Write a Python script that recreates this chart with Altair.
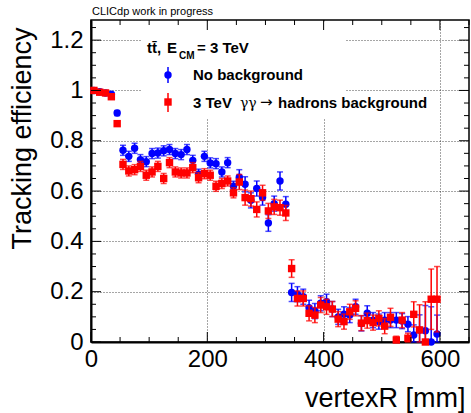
import altair as alt
import pandas as pd

# ---------------- data ----------------
vertex_r = [5, 15, 25, 35, 45, 55, 65, 75, 85, 95,
            105, 115, 125, 135, 145, 155, 165, 175, 185, 195,
            205, 215, 225, 235, 245, 255, 265, 275, 285, 295,
            305, 315, 325, 335, 345, 355, 365, 375, 385, 395,
            405, 415, 425, 435, 445, 455, 465, 475, 485, 495,
            505, 515, 525, 535, 545, 555, 565, 575, 585, 595]

eff_nobkg = [1.0, 0.995, 0.99, 0.985, 0.91, 0.762, 0.738, 0.77, 0.725, 0.717,
             0.749, 0.751, 0.76, 0.765, 0.749, 0.745, 0.765, 0.722, 0.667, 0.738,
             0.712, 0.709, 0.676, 0.713, 0.619, 0.655, 0.627, 0.563, 0.61, 0.574,
             0.473, 0.55, 0.64, 0.548, 0.197, 0.19, 0.18, 0.136, 0.123, 0.154,
             0.16, 0.131, 0.10, 0.11, 0.107, 0.14, 0.074, 0.114, 0.087, 0.081,
             0.087, 0.087, 0.087, 0.083, 0.071, 0.028, 0.048, 0.045, 0.0, 0.032]
err_nobkg = [0.005, 0.005, 0.005, 0.005, 0.01, 0.02, 0.02, 0.02, 0.02, 0.02,
             0.02, 0.02, 0.02, 0.02, 0.02, 0.02, 0.02, 0.02, 0.02, 0.02,
             0.02, 0.02, 0.02, 0.02, 0.02, 0.03, 0.03, 0.03, 0.03, 0.03,
             0.033, 0.03, 0.036, 0.03, 0.036, 0.03, 0.03, 0.03, 0.03, 0.03,
             0.03, 0.03, 0.03, 0.03, 0.03, 0.03, 0.03, 0.03, 0.03, 0.03,
             0.03, 0.03, 0.03, 0.03, 0.03, 0.04, 0.06, 0.1, 0.14, 0.075]

eff_bkg = [1.0, 0.993, 0.99, 0.975, 0.868, 0.706, 0.68, 0.685, 0.698, 0.663,
           0.676, 0.698, 0.65, 0.713, 0.676, 0.672, 0.672, 0.693, 0.653, 0.669,
           0.663, 0.619, 0.63, 0.64, 0.593, 0.636, 0.574, 0.57, 0.527, 0.593,
           0.521, 0.537, 0.534, 0.513, 0.292, 0.173, 0.173, 0.114, 0.107, 0.147,
           0.14, 0.131, 0.091, 0.081, 0.12, 0.134, 0.075, 0.085, 0.077, 0.094,
           0.063, 0.098, 0.008, 0.087, 0.015, 0.11, 0.048, 0.0, 0.17, 0.17]
err_bkg = [0.005, 0.005, 0.005, 0.005, 0.01, 0.02, 0.02, 0.02, 0.02, 0.02,
           0.02, 0.02, 0.02, 0.02, 0.02, 0.02, 0.02, 0.02, 0.02, 0.02,
           0.02, 0.02, 0.02, 0.02, 0.02, 0.03, 0.03, 0.03, 0.03, 0.03,
           0.03, 0.03, 0.03, 0.03, 0.035, 0.03, 0.03, 0.03, 0.03, 0.03,
           0.03, 0.03, 0.03, 0.03, 0.03, 0.03, 0.03, 0.03, 0.03, 0.03,
           0.03, 0.036, 0.015, 0.03, 0.02, 0.05, 0.1, 0.16, 0.12, 0.13]

x_major = [0, 200, 400, 600]
x_minor = [50, 100, 150, 250, 300, 350, 450, 500, 550, 650]
y_major = [0, 0.2, 0.4, 0.6, 0.8, 1, 1.2]
y_minor = [0.05, 0.1, 0.15, 0.25, 0.3, 0.35, 0.45, 0.5, 0.55, 0.65, 0.7,
           0.75, 0.85, 0.9, 0.95, 1.05, 1.1, 1.15, 1.25]

BLUE = "#0000ff"
RED = "#ff0000"
FONT = "Liberation Sans"
W, H = 378, 322

def make_df(eff, err):
    return pd.DataFrame({
        "r": vertex_r,
        "eff": eff,
        "lo": [max(0.0, e - d) for e, d in zip(eff, err)],
        "hi": [e + d for e, d in zip(eff, err)],
    })

df_nobkg = make_df(eff_nobkg, err_nobkg)
df_bkg = make_df(eff_bkg, err_bkg)

xs = alt.Scale(domain=[0, 650], nice=False, zero=False)
ys = alt.Scale(domain=[0, 1.28], nice=False, zero=False)

x_axis = alt.Axis(values=x_major, ticks=False, grid=True, gridDash=[1, 2],
                  gridColor="#000000", gridOpacity=0.7, gridWidth=1,
                  domain=True, domainColor="black", domainWidth=2,
                  labelFont=FONT, labelFontSize=24, labelColor="black",
                  labelPadding=5, labelFlush=False,
                  title="vertexR [mm]", titleFont=FONT, titleFontSize=27,
                  titleFontWeight="normal", titleColor="black",
                  titleX=374, titleY=56, titleAlign="right", titleBaseline="middle")
y_axis = alt.Axis(values=y_major, format="~g", ticks=False, grid=True, gridDash=[1, 2],
                  gridColor="#000000", gridOpacity=0.7, gridWidth=1,
                  domain=True, domainColor="black", domainWidth=2,
                  labelFont=FONT, labelFontSize=24, labelColor="black",
                  labelPadding=8, labelFlush=False,
                  title="Tracking efficiency", titleFont=FONT, titleFontSize=27,
                  titleFontWeight="normal", titleColor="black",
                  titleX=-69, titleY=7, titleAngle=270, titleAlign="right",
                  titleBaseline="middle")

def X(field):
    return alt.X(field, type="quantitative", scale=xs, axis=x_axis)

def Y(field):
    return alt.Y(field, type="quantitative", scale=ys, axis=y_axis)

one = pd.DataFrame({"a": [0]})

# white legend box (hides grid behind legend)
legend_box = alt.Chart(one).mark_rect(fill="white").encode(
    x=alt.value(50), x2=alt.value(254), y=alt.value(1.5), y2=alt.value(98)
)

def series_layers(df, color, shape):
    bars = alt.Chart(df).mark_rule(color=color, strokeWidth=1.5).encode(
        x=X("r"), y=Y("lo"), y2="hi:Q",
    )
    cap_lo = alt.Chart(df).mark_tick(color=color, orient="horizontal", size=6,
                                     thickness=1.5).encode(x=X("r"), y=Y("lo"))
    cap_hi = alt.Chart(df).mark_tick(color=color, orient="horizontal", size=6,
                                     thickness=1.5).encode(x=X("r"), y=Y("hi"))
    pts = alt.Chart(df).mark_point(shape=shape, filled=True, size=55, color=color,
                                   opacity=1, strokeWidth=0).encode(x=X("r"), y=Y("eff"))
    return [bars, cap_lo, cap_hi, pts]

blue_layers = series_layers(df_nobkg, BLUE, "circle")
red_layers = series_layers(df_bkg, RED, "square")

# inward ticks on all four sides
def ticks_x(vals, length):
    d = pd.DataFrame({"t": vals})
    bottom = alt.Chart(d).mark_rule(color="black", strokeWidth=1).encode(
        x=X("t"), y=alt.value(H - length), y2=alt.value(H))
    top = alt.Chart(d).mark_rule(color="black", strokeWidth=1).encode(
        x=X("t"), y=alt.value(0), y2=alt.value(length))
    return [bottom, top]

def ticks_y(vals, length):
    d = pd.DataFrame({"t": vals})
    left = alt.Chart(d).mark_rule(color="black", strokeWidth=1).encode(
        y=Y("t"), x=alt.value(0), x2=alt.value(length))
    right = alt.Chart(d).mark_rule(color="black", strokeWidth=1).encode(
        y=Y("t"), x=alt.value(W - length), x2=alt.value(W))
    return [left, right]

tick_layers = (ticks_x(x_major, 10) + ticks_x(x_minor, 5)
               + ticks_y(y_major, 10) + ticks_y(y_minor, 5))

def txt(s, x, y, size=15, weight="bold", font=FONT, align="left", baseline="alphabetic"):
    return alt.Chart(one).mark_text(text=s, font=font, fontSize=size, fontWeight=weight,
                                    align=align, baseline=baseline, color="black").encode(
        x=alt.value(x), y=alt.value(y))

texts = [
    txt("CLICdp work in progress", 1, -5, size=11, weight="normal"),
    txt("t\u0074\u0304,", 56, 33),
    txt("E", 76, 33),
    txt("CM", 88, 39, size=10),
    txt("= 3 TeV", 106, 33),
    txt("No background", 102, 60),
    txt("3 TeV", 102, 88),
    txt("\u03b3\u03b3", 149, 88, weight="normal", font="DejaVu Serif", size=14),
    txt("\u2192", 169, 87, weight="normal", font="DejaVu Sans", size=15),
    txt("hadrons background", 187, 88),
]

# legend markers
leg_blue_bar = alt.Chart(one).mark_rule(color=BLUE, strokeWidth=1.5).encode(
    x=alt.value(77), y=alt.value(47), y2=alt.value(63))
leg_blue_pt = alt.Chart(one).mark_point(shape="circle", filled=True, size=55,
                                        color=BLUE, opacity=1).encode(
    x=alt.value(77), y=alt.value(55))
leg_red_bar = alt.Chart(one).mark_rule(color=RED, strokeWidth=1.5).encode(
    x=alt.value(77), y=alt.value(73), y2=alt.value(92))
leg_red_pt = alt.Chart(one).mark_point(shape="square", filled=True, size=55,
                                       color=RED, opacity=1).encode(
    x=alt.value(77), y=alt.value(82))

chart = alt.layer(
    legend_box, *blue_layers, *red_layers, *tick_layers,
    leg_blue_bar, leg_blue_pt, leg_red_bar, leg_red_pt, *texts
).properties(
    width=W, height=H,
    autosize=alt.AutoSizeParams(type="none"),
    padding={"left": 91, "top": 20, "right": 2, "bottom": 71},
    background="white",
).configure_view(stroke="black", strokeWidth=1.5)

chart.save("out.html", embed_options={"renderer": "svg", "actions": False})
